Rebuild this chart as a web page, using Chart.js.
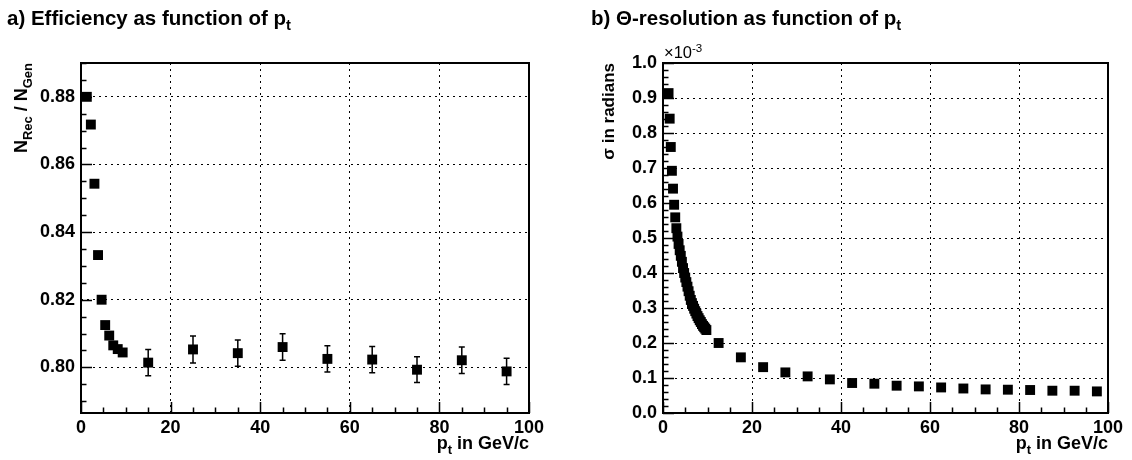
<!DOCTYPE html>
<html><head><meta charset="utf-8">
<script src="https://cdn.jsdelivr.net/npm/chart.js@4.4.0/dist/chart.umd.min.js"></script>
<style>
html,body{margin:0;padding:0;background:#fff;}
#wrap{position:relative;width:1132px;height:460px;overflow:hidden;font-family:'Liberation Sans',Arial,Helvetica,sans-serif;font-weight:bold;color:#000;}
canvas{position:absolute;top:0;}
.t{position:absolute;white-space:nowrap;line-height:1;}
.t sub{font-size:72%;vertical-align:baseline;position:relative;top:0.35em;}
.rot{transform-origin:0 0;transform:rotate(-90deg) translateX(-100%);}
</style></head>
<body>
<div id="wrap">
  <canvas id="cA" width="566" height="460" style="left:0"></canvas>
  <canvas id="cB" width="566" height="460" style="left:566px"></canvas>
  <div class="t" style="left:7px;top:8px;font-size:20.5px">a) Efficiency as function of p<sub>t</sub></div>
  <div class="t" style="left:591px;top:8px;font-size:20.5px">b) Θ-resolution as function of p<sub>t</sub></div>
  <div class="t rot" style="left:12px;top:63px;font-size:18px">N<sub>Rec</sub> / N<sub>Gen</sub></div>
  <div class="t rot" style="left:600px;top:63px;font-size:17px">σ in radians</div>
  <div class="t" style="right:603px;top:434px;font-size:18px">p<sub>t</sub> in GeV/c</div>
  <div class="t" style="right:24px;top:434px;font-size:18px">p<sub>t</sub> in GeV/c</div>
  <div class="t" style="left:664px;top:44px;font-size:16.5px;font-weight:normal">×10<sup style="font-size:70%;vertical-align:baseline;position:relative;top:-0.55em">-3</sup></div>
</div>
<script>
// ---------- data: a) efficiency vs pt ----------
const effPt  = [1.3, 2.2, 3.0, 3.8, 4.6, 5.4, 6.3, 7.2, 8.2, 9.3, 15, 25, 35, 45, 55, 65, 75, 85, 95];
const effVal = [0.8800, 0.8718, 0.8543, 0.8332, 0.8200, 0.8125, 0.8094, 0.8065, 0.8054, 0.8044,
                0.8014, 0.8053, 0.8042, 0.8060, 0.8025, 0.8023, 0.7993, 0.8021, 0.7988];
const effErr = [0.0005, 0.0006, 0.0007, 0.0008, 0.0009, 0.0010, 0.0010, 0.0011, 0.0011, 0.0012,
                0.0039, 0.0040, 0.0039, 0.0039, 0.0039, 0.0039, 0.0038, 0.0039, 0.0039];
const effXTicks = [0, 20, 40, 60, 80, 100];
const effYTicks = [0.80, 0.82, 0.84, 0.86, 0.88];

// ---------- data: b) theta resolution vs pt (values in units of 1e-3 rad) ----------
const resPt = [1.25, 1.5, 1.75, 2.0, 2.25, 2.5, 2.75, 3.0, 3.25, 3.5, 3.75, 4.0, 4.25, 4.5, 4.75,
               5.0, 5.25, 5.5, 5.75, 6.0, 6.25, 6.5, 6.75, 7.0, 7.25, 7.5, 7.75, 8.0, 8.25, 8.5,
               8.75, 9.0, 9.25, 9.5, 9.75,
               12.5, 17.5, 22.5, 27.5, 32.5, 37.5, 42.5, 47.5, 52.5, 57.5, 62.5, 67.5, 72.5, 77.5,
               82.5, 87.5, 92.5, 97.5];
const resSigma = [0.914, 0.841, 0.760, 0.692, 0.641, 0.595, 0.559, 0.528, 0.504, 0.483, 0.465, 0.449, 0.432, 0.414, 0.400,
                  0.387, 0.374, 0.361, 0.348, 0.335, 0.323, 0.314, 0.306, 0.298, 0.291, 0.284, 0.277, 0.271, 0.265, 0.260,
                  0.254, 0.249, 0.245, 0.241, 0.237,
                  0.200, 0.159, 0.131, 0.116, 0.1046, 0.096, 0.0857, 0.0837, 0.078, 0.076, 0.073, 0.070, 0.0674, 0.0666,
                  0.0657, 0.0637, 0.0637, 0.0617];
const resXTicks = [0, 20, 40, 60, 80, 100];
const resYTicks = [0.0, 0.1, 0.2, 0.3, 0.4, 0.5, 0.6, 0.7, 0.8, 0.9, 1.0];

// ---------- helpers ----------
Chart.defaults.font.family = "'Liberation Sans', Arial, sans-serif";
Chart.defaults.color = '#000';

function range(a, b, s) { const r = []; for (let v = a; v <= b + 1e-9; v += s) r.push(+v.toFixed(6)); return r; }

const rootFrame = {
  id: 'rootFrame',
  beforeDatasetsDraw(chart, args, o) {
    if (!o.err) return;
    const {ctx, scales: {x, y}} = chart;
    const ds = chart.data.datasets[0].data;
    ctx.save();
    ctx.strokeStyle = '#000'; ctx.lineWidth = 1.5;
    ds.forEach((p, i) => {
      const e = o.err[i];
      const px = x.getPixelForValue(p.x);
      const y1 = y.getPixelForValue(p.y - e), y2 = y.getPixelForValue(p.y + e);
      if (Math.abs(y1 - y2) < 11) return;
      ctx.beginPath();
      ctx.moveTo(px, y1); ctx.lineTo(px, y2);
      ctx.moveTo(px - 3, y1); ctx.lineTo(px + 3, y1);
      ctx.moveTo(px - 3, y2); ctx.lineTo(px + 3, y2);
      ctx.stroke();
    });
    ctx.restore();
  },
  afterDraw(chart, args, o) {
    const {ctx, chartArea: a, scales: {x, y}} = chart;
    ctx.save();
    ctx.strokeStyle = '#000'; ctx.lineWidth = 1.5;
    ctx.beginPath();
    o.xMinor.forEach(v => { const p = Math.round(x.getPixelForValue(v)) + 0.5; const L = o.xMajor.some(m => Math.abs(m - v) < 1e-9) ? 11 : 5.5; ctx.moveTo(p, a.bottom); ctx.lineTo(p, a.bottom - L); });
    o.yMinor.forEach(v => { const p = Math.round(y.getPixelForValue(v)) + 0.5; const L = o.yMajor.some(m => Math.abs(m - v) < 1e-9) ? 11 : 5.5; ctx.moveTo(a.left, p); ctx.lineTo(a.left + L, p); });
    ctx.stroke();
    ctx.lineWidth = 2;
    ctx.strokeRect(a.left, a.top, a.right - a.left, a.bottom - a.top);
    ctx.restore();
  }
};

function makeChart(id, xs, ys, cfg) {
  return new Chart(document.getElementById(id), {
    type: 'scatter',
    data: { datasets: [{ data: xs.map((v, i) => ({x: v, y: ys[i]})), pointStyle: 'rect', pointRadius: 7,
      pointHoverRadius: 7, backgroundColor: '#000', borderWidth: 0, showLine: false, clip: false }] },
    options: {
      responsive: false, animation: false, devicePixelRatio: 1,
      layout: { padding: cfg.pad },
      plugins: { legend: {display: false}, tooltip: {enabled: false}, title: {display: false},
        rootFrame: { err: cfg.err, xMajor: cfg.xTicks, xMinor: cfg.xMinor, yMajor: cfg.yTicks, yMinor: cfg.yMinor } },
      scales: {
        x: { type: 'linear', min: 0, max: 100,
          afterFit: s => { s.height = cfg.xH; },
          afterBuildTicks: s => { s.ticks = cfg.xTicks.map(v => ({value: v})); },
          grid: { color: '#000', lineWidth: 1, drawTicks: false },
          border: { display: false, dash: [2, 4] },
          ticks: { font: {size: 18, weight: 'bold'}, padding: 4, maxRotation: 0, callback: v => String(v) } },
        y: { type: 'linear', min: cfg.yMin, max: cfg.yMax,
          afterFit: s => { s.width = cfg.yW; },
          afterBuildTicks: s => { s.ticks = cfg.yTicks.map(v => ({value: v})); },
          grid: { color: '#000', lineWidth: 1, drawTicks: false },
          border: { display: false, dash: [2, 4] },
          ticks: { font: {size: 18, weight: 'bold'}, padding: 6, callback: v => Number(v).toFixed(cfg.dec) } }
      }
    },
    plugins: [rootFrame]
  });
}

makeChart('cA', effPt, effVal, {
  pad: {left: 0, right: 37, top: 63, bottom: 0}, xH: 47, yW: 81,
  yMin: 0.7865, yMax: 0.890, dec: 2, err: effErr,
  xTicks: effXTicks, yTicks: effYTicks,
  xMinor: range(0, 100, 5), yMinor: range(0.79, 0.89, 0.005)
});

makeChart('cB', resPt, resSigma, {
  pad: {left: 0, right: 24, top: 63, bottom: 0}, xH: 47, yW: 97,
  yMin: 0, yMax: 1.0, dec: 1, err: null,
  xTicks: resXTicks, yTicks: resYTicks,
  xMinor: range(0, 100, 5), yMinor: range(0, 1.0, 0.02)
});
</script>
</body></html>
